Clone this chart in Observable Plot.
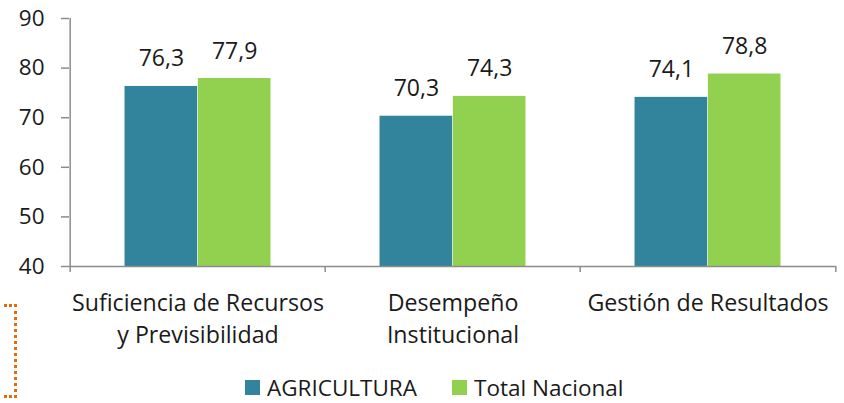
<!DOCTYPE html>
<html>
<head>
<meta charset="utf-8">
<script src="https://cdn.jsdelivr.net/npm/d3@7"></script>
<script src="https://cdn.jsdelivr.net/npm/@observablehq/plot@0.6"></script>
<style>
  body { margin: 0; background: #fff; }
  #wrap { position: relative; width: 844px; height: 403px; font-family: "Open Sans", sans-serif; color: #1a1a1a; }
  #chart svg { display: block; font-family: "Open Sans", sans-serif; }
  #legend { display: flex; justify-content: flex-start; align-items: center; height: 31px; font-size: 22.5px; color: #1a1a1a; padding-left: 245px; }
  #legend .item { display: flex; align-items: center; }
  #legend .sw { width: 15px; height: 15px; margin-right: 7px; }
  #bracket { position: absolute; left: 4px; top: 304px; width: 10px; height: 88px;
             border-top: 3px dotted #E36C09; border-right: 3px dotted #E36C09; border-bottom: 3px dotted #E36C09; }
</style>
</head>
<body>
<div id="wrap">
  <div id="chart"></div>
  <div id="legend"></div>
  <div id="bracket"></div>
</div>
<script>
const categories = ["Suficiencia de Recursos\ny Previsibilidad", "Desempeño\nInstitucional", "Gestión de Resultados"];
const series = ["AGRICULTURA", "Total Nacional"];
const agricultura = [76.3, 70.3, 74.1];
const totalNacional = [77.9, 74.3, 78.8];
const yTicks = [40, 50, 60, 70, 80, 90];
const colors = ["#31849B", "#92D050"];

const W = 844, H = 372, mL = 69, mR = 8, mT = 18, mB = H - 266;
const bw = (W - mL - mR) / categories.length;
const barW = 73.3, outer = (bw - 2 * barW) / 2;

const agri = categories.map((c, i) => ({cat: c, series: series[0], value: agricultura[i]}));
const tot = categories.map((c, i) => ({cat: c, series: series[1], value: totalNacional[i]}));
const fmt = v => v.toFixed(1).replace(".", ",");

const plot = Plot.plot({
  width: W, height: H,
  marginLeft: mL, marginRight: mR, marginTop: mT, marginBottom: mB,
  x: {domain: categories, padding: 0, label: null},
  y: {domain: [40, 90], label: null},
  marks: [
    Plot.barY(agri, {x: "cat", y1: 40, y2: "value", fill: colors[0], insetLeft: outer, insetRight: bw - outer - barW}),
    Plot.barY(tot, {x: "cat", y1: 40, y2: "value", fill: colors[1], insetLeft: outer + barW, insetRight: outer}),
    Plot.text(agri, {x: "cat", y: "value", text: d => fmt(d.value), dx: -barW / 2, dy: -20, lineAnchor: "bottom", fontSize: 23, fill: "#1a1a1a"}),
    Plot.text(tot, {x: "cat", y: "value", text: d => fmt(d.value), dx: barW / 2, dy: -20, lineAnchor: "bottom", fontSize: 23, fill: "#1a1a1a"}),
    Plot.ruleY([40], {stroke: "#8c8c8c", strokeWidth: 1.5}),
    Plot.ruleX(categories.slice(0, 1), {x: d => d, dx: -bw / 2, y1: 90, y2: 40, insetBottom: -6, stroke: "#8c8c8c", strokeWidth: 1.5}),
    Plot.ruleX(categories.slice(1), {x: d => d, dx: -bw / 2, y1: 40, y2: 40, insetBottom: -6, stroke: "#8c8c8c", strokeWidth: 1.5}),
    Plot.ruleX(categories.slice(-1), {x: d => d, dx: bw / 2, y1: 40, y2: 40, insetBottom: -6, stroke: "#8c8c8c", strokeWidth: 1.5}),
    Plot.axisY({ticks: yTicks, tickSize: 8, tickPadding: 17, fontSize: 22.5, stroke: "#8c8c8c", fill: "#1a1a1a", strokeWidth: 1.5}),
    Plot.axisX({tickSize: 0, tickPadding: 21, fontSize: 23.2, lineHeight: 1.4, fill: "#1a1a1a"})
  ]
});
document.getElementById("chart").appendChild(plot);

const legend = document.getElementById("legend");
series.forEach((s, i) => {
  const item = document.createElement("div");
  item.className = "item";
  item.style.marginRight = i === 0 ? "35px" : "0";
  const sw = document.createElement("span");
  sw.className = "sw";
  sw.style.background = colors[i];
  const t = document.createElement("span");
  t.textContent = s;
  item.appendChild(sw);
  item.appendChild(t);
  legend.appendChild(item);
});
</script>
</body>
</html>
